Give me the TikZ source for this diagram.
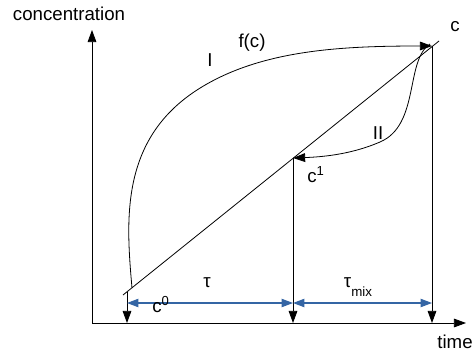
\documentclass[tikz,border=0pt]{standalone}
\usepackage{fontspec}
\setmainfont{Liberation Sans}
\usetikzlibrary{arrows.meta}
\definecolor{dimblue}{HTML}{3465A4}
\tikzset{
  plotline/.style={draw=black,line width=0.6pt},
  plotarrow/.style={draw=black,line width=0.6pt,-{Triangle[length=3.2mm,width=2.3mm]}},
  dimarrow/.style={draw=dimblue,line width=0.8pt,
    {Triangle[length=3mm,width=2.2mm]}-{Triangle[length=3mm,width=2.2mm]}},
  plotlabel/.style={inner sep=0pt,font=\fontsize{14}{16}\selectfont},
}
\begin{document}
\begin{tikzpicture}[x=0.75pt,y=-0.75pt]
  \useasboundingbox (0,0) rectangle (473,356);
  % axes
  \coordinate (o) at (92,323);
  \coordinate (yaxis) at (92,30);
  \coordinate (xaxis) at (466,323);
  \draw[plotarrow] (o) -- (yaxis);
  \draw[plotarrow] (o) -- (xaxis);
  \foreach \n/\x/\y in {c0/127/292,c1/293/158,cc/432/46}
    {\coordinate (p\n) at (\x,\y);
     \coordinate (f\n) at (\x,323);
     \coordinate (d\n) at (\x,303);}
  \coordinate (dlow) at (123,295);
  \coordinate (dhigh) at (439,41);
  \draw[plotline] (dlow) -- (dhigh);
  \foreach \n in {c0,c1,cc} {\draw[plotarrow] (p\n) -- (f\n);}
  \draw[dimarrow] (dc0) -- (dc1);
  \draw[dimarrow] (dc1) -- (dcc);
  % curves I and II
  \coordinate (istart) at (132,288);
  \coordinate (istart2) at (430,44);
  \draw[plotarrow] (istart) .. controls (126,220) and (120,140) .. (197,90)
    .. controls (259,50) and (340,46) .. (pcc);
  \draw[plotarrow] (istart2) .. controls (405,60) and (420,125) .. (380,142)
    .. controls (350,155) and (320,157) .. (pc1);
  % labels
  \node[plotlabel] (ylabel) at (69,14) {concentration};
  \node[plotlabel] (xlabel) at (455,342) {time};
  \node[plotlabel] (lc) at (455,27) {c};
  \node[plotlabel] (lf) at (252,43) {f(c)};
  \node[plotlabel] (lI) at (210,60) {I};
  \node[plotlabel] (lII) at (378,133) {II};
  \node[plotlabel] (lc0) at (161,305) {c\textsuperscript{0}};
  \node[plotlabel] (lc1) at (316,175) {c\textsuperscript{1}};
  \node[plotlabel] (ltau) at (207,283) {τ};
  \node[plotlabel] (ltmix) at (358,287) {τ\raisebox{-1ex}{\fontsize{10}{12}\selectfont mix}};
\end{tikzpicture}
\end{document}
